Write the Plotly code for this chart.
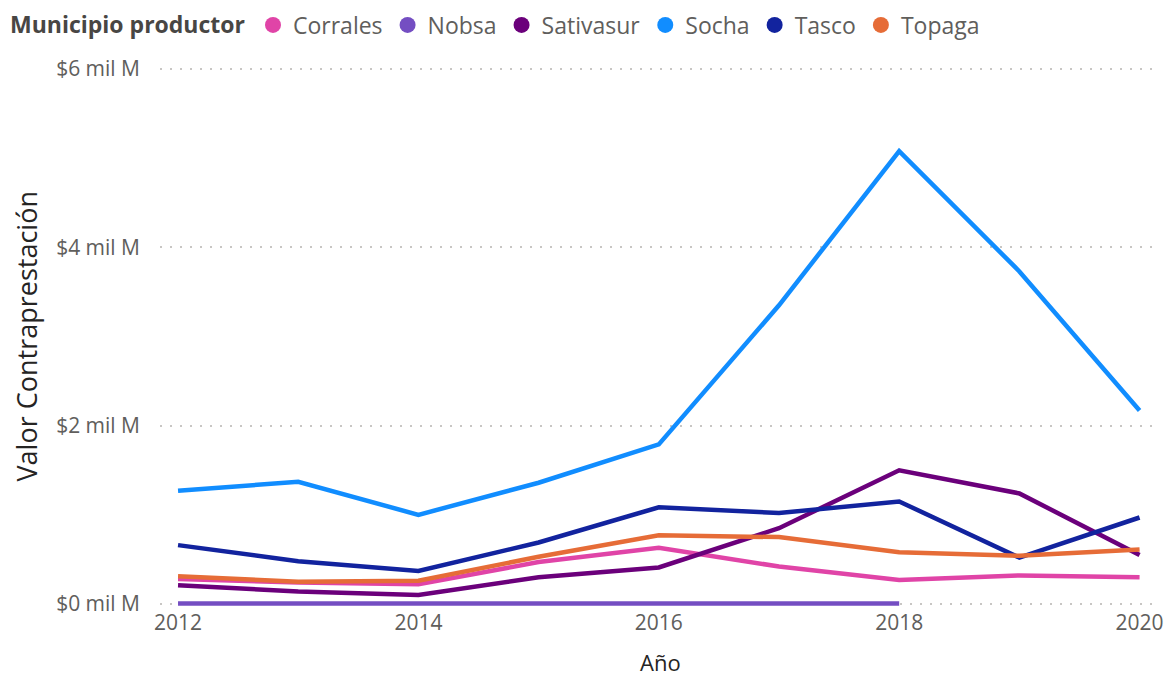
import plotly.graph_objects as go

years = [2012, 2013, 2014, 2015, 2016, 2017, 2018, 2019, 2020]
nobsa_years = [2012, 2013, 2014, 2015, 2016, 2017, 2018]

corrales = [0.28, 0.24, 0.22, 0.47, 0.63, 0.42, 0.27, 0.32, 0.30]
nobsa = [0.005, 0.005, 0.005, 0.005, 0.005, 0.005, 0.005]
sativasur = [0.21, 0.14, 0.10, 0.30, 0.41, 0.85, 1.50, 1.24, 0.55]
socha = [1.27, 1.37, 1.00, 1.36, 1.79, 3.35, 5.08, 3.73, 2.17]
tasco = [0.66, 0.48, 0.37, 0.69, 1.085, 1.02, 1.15, 0.52, 0.97]
topaga = [0.31, 0.25, 0.26, 0.53, 0.77, 0.75, 0.58, 0.54, 0.61]

y_tickvals = [0, 2, 4, 6]
y_ticktext = ["$0 mil M", "$2 mil M", "$4 mil M", "$6 mil M"]
x_tickvals = [2012, 2014, 2016, 2018, 2020]

series = [
    ("Corrales", years, corrales, "#E044A7"),
    ("Nobsa", nobsa_years, nobsa, "#744EC2"),
    ("Sativasur", years, sativasur, "#6B007B"),
    ("Socha", years, socha, "#118DFF"),
    ("Tasco", years, tasco, "#12239E"),
    ("Topaga", years, topaga, "#E66C37"),
]

fig = go.Figure()
for name, xs, ys, color in series:
    fig.add_trace(go.Scatter(
        x=xs, y=ys, name=name, mode="lines", legendgroup=name,
        line=dict(color=color, width=4.5),
        cliponaxis=False, showlegend=False,
    ))
# legend entries with round markers
for name, xs, ys, color in series:
    fig.add_trace(go.Scatter(
        x=[None], y=[None], name=name, mode="markers", legendgroup=name,
        marker=dict(color=color, size=16, symbol="circle"),
        showlegend=True,
    ))

font_family = "Open Sans, Noto Sans, DejaVu Sans, sans-serif"

# figure coordinates (page has 8px body margin)
L, R, T, B = 152, 21, 57, 75

fig.update_layout(
    width=1173, height=675,
    paper_bgcolor="white", plot_bgcolor="white",
    margin=dict(l=L, r=R, t=T, b=B, autoexpand=False),
    font=dict(family=font_family, color="#605E5C"),
    showlegend=True,
    legend=dict(
        orientation="h", x=0.0, xref="container", y=1.0737, yref="paper",
        xanchor="left", yanchor="middle",
        title=dict(text="<b>Municipio productor</b>", font=dict(size=23, color="#484644")),
        font=dict(size=23, color="#605E5C"),
        itemsizing="trace", itemwidth=30,
        tracegroupgap=0, borderwidth=0,
    ),
    xaxis=dict(
        range=[2011.85, 2020.17],
        tickvals=x_tickvals,
        tickfont=dict(size=21, color="#605E5C"),
        showgrid=False, zeroline=False, showline=False,
        title=dict(text=""),
    ),
    yaxis=dict(
        range=[-0.045, 6.045],
        tickvals=y_tickvals, ticktext=y_ticktext,
        tickfont=dict(size=21, color="#605E5C"),
        showgrid=True, gridcolor="#C8C6C4", griddash="2px,8px", gridwidth=1.5,
        zeroline=False, showline=False,
        ticklabelstandoff=19,
        title=dict(text=""),
    ),
    annotations=[
        dict(text="Valor Contraprestación", textangle=-90, x=-0.134, xref="paper",
             y=0.5, yref="paper", xanchor="center", yanchor="middle", showarrow=False,
             font=dict(size=27, color="#252423")),
        dict(text="Año", x=0.5, xref="paper", y=-0.0994, yref="paper",
             xanchor="center", yanchor="middle", showarrow=False,
             font=dict(size=22, color="#252423")),
    ],
)

fig.write_html("out.html")
